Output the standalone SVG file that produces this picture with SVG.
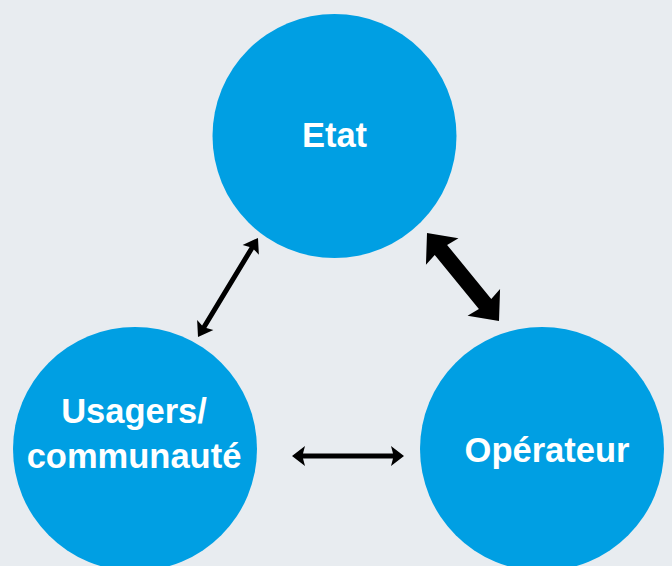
<svg xmlns="http://www.w3.org/2000/svg" width="672" height="566" viewBox="0 0 672 566">
  <style>
    .node { fill: #009fe3; }
    .label { fill: #ffffff; font-family: "Liberation Sans", Arial, sans-serif; font-weight: bold; font-size: 34.5px; text-anchor: middle; }
    .arrow { fill: #000000; }
  </style>
  <rect width="672" height="566" fill="#e8ecf0"/>

  <g id="etat">
    <circle class="node" cx="334.5" cy="136" r="122"/>
    <text class="label" x="334.5" y="147">Etat</text>
  </g>

  <g id="usagers">
    <circle class="node" cx="135" cy="449" r="122"/>
    <text class="label" x="134" y="423">Usagers/</text>
    <text class="label" x="134" y="468">communauté</text>
  </g>

  <g id="operateur">
    <circle class="node" cx="542" cy="449" r="122"/>
    <text class="label" x="547" y="462">Opérateur</text>
  </g>

  <g id="connectors">
    <!-- Usagers <-> Etat -->
    <path class="arrow" transform="translate(198,337) rotate(-58.8)"
          d="M0,0 L14,-9.5 L12,-2.5 L103.8,-2.5 L101.8,-9.5 L115.8,0 L101.8,9.5 L103.8,2.5 L12,2.5 L14,9.5 Z"/>
    <!-- Etat <-> Operateur (heavy) -->
    <path class="arrow" transform="translate(427,233) rotate(50.7)"
          d="M0,0 L24,-21 L22,-8 L91.7,-8 L89.7,-21 L113.7,0 L89.7,21 L91.7,8 L22,8 L24,21 Z"/>
    <!-- Usagers <-> Operateur -->
    <path class="arrow" transform="translate(292,456)"
          d="M0,0 L13,-10 L11,-2.5 L101,-2.5 L99,-10 L112,0 L99,10 L101,2.5 L11,2.5 L13,10 Z"/>
  </g>
</svg>
